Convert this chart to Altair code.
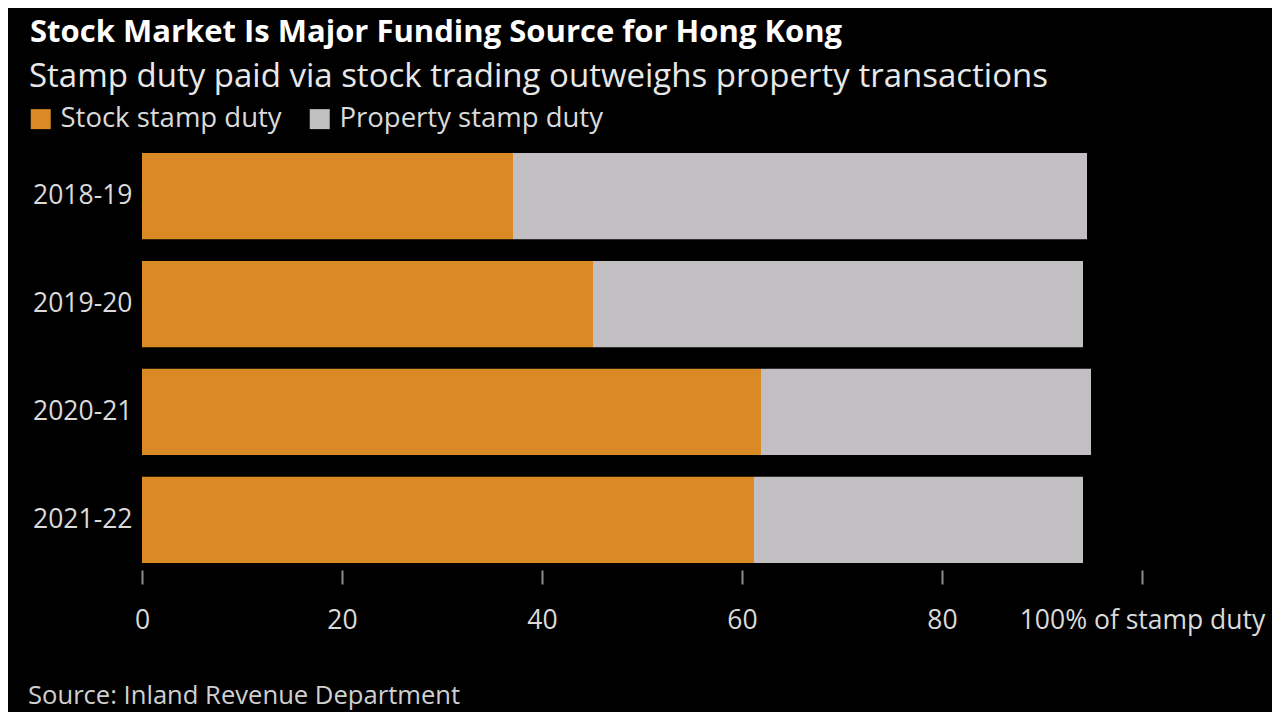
import altair as alt
import pandas as pd

# ---- data ----
years = ["2018-19", "2019-20", "2020-21", "2021-22"]
stock_share = [37.1, 45.1, 61.9, 61.2]
property_share = [57.4, 49.0, 33.0, 32.9]
series = ["Stock stamp duty", "Property stamp duty"]
colors = ["#D98A24", "#C2BFC2"]
x_ticks = [0, 20, 40, 60, 80, 100]

title_text = "Stock Market Is Major Funding Source for Hong Kong"
subtitle_text = "Stamp duty paid via stock trading outweighs property transactions"
source_text = "Source: Inland Revenue Department"

rows = []
for i, y in enumerate(years):
    rows.append({"year": y, "series": series[0], "value": stock_share[i], "order": 0})
    rows.append({"year": y, "series": series[1], "value": property_share[i], "order": 1})
df = pd.DataFrame(rows)

FONT = "Open Sans"

bars = alt.Chart(df).mark_bar().encode(
    y=alt.Y("year:N", sort=years, title=None,
            scale=alt.Scale(paddingInner=0.2, paddingOuter=0),
            axis=alt.Axis(ticks=False, domain=False, labelPadding=10,
                          labelFontSize=26.5, labelColor="#DADADA", labelFont=FONT)),
    x=alt.X("value:Q", stack="zero", title=None,
            scale=alt.Scale(domain=[0, 100], nice=False),
            axis=alt.Axis(values=x_ticks, grid=False, domain=False,
                          offset=7, tickSize=14, tickWidth=2, tickColor="#8C8C8C",
                          labelBaseline="alphabetic", labelPadding=44,
                          labelFlush=False, labelOverlap=False, labelLimit=500,
                          labelFontSize=26.5, labelColor="#DADADA", labelFont=FONT,
                          labelExpr="datum.value == 100 ? '100% of stamp duty' : datum.label")),
    color=alt.Color("series:N",
                    scale=alt.Scale(domain=series, range=colors),
                    legend=alt.Legend(title=None, orient="none", direction="horizontal",
                                      legendX=-115, legendY=-48,
                                      symbolType="square", symbolSize=400,
                                      symbolStrokeWidth=0, symbolOpacity=1,
                                      labelFontSize=27.5, labelColor="#DADADA", labelFont=FONT,
                                      labelLimit=500,
                                      labelOffset=6, columnPadding=24, padding=0)),
    order=alt.Order("order:Q"),
)

def label(text, x, y, size, weight="normal", color="#E6E6E6"):
    return alt.Chart(pd.DataFrame({"t": [text]})).mark_text(
        align="left", baseline="alphabetic", fontSize=size, fontWeight=weight,
        font=FONT, color=color
    ).encode(text="t:N", x=alt.value(x), y=alt.value(y))

# positions relative to the plot's top-left corner
title = label(title_text, -112, -111, 31, "bold", "#FFFFFF")
subtitle = label(subtitle_text, -113, -66, 33, "normal", "#E8E8E8")
source = label(source_text, -114, 551, 25.6, "normal", "#D0D0D0")

chart = alt.layer(bars, title, subtitle, source).properties(
    width=1000, height=410,
    autosize=alt.AutoSizeParams(type="none"),
    padding={"left": 134, "top": 145, "right": 130, "bottom": 149},
).configure(background="#000000").configure_view(stroke=None)

chart.save("out.html", embed_options={"renderer": "svg", "actions": False})
